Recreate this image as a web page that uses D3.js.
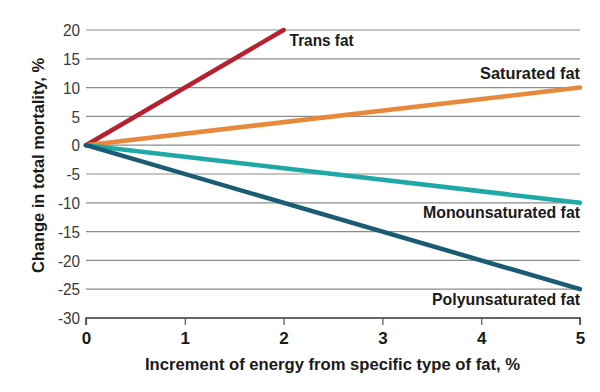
<!DOCTYPE html>
<html><head><meta charset="utf-8">
<script src="https://cdn.jsdelivr.net/npm/d3@7"></script>
<style>
body{margin:0;background:#fff;}
text{font-family:"Liberation Sans",Arial,sans-serif;}
</style></head>
<body><svg id="c" width="600" height="392"></svg>
<script>
const xTicks=[0,1,2,3,4,5];
const yTicks=[20,15,10,5,0,-5,-10,-15,-20,-25,-30];
const seriesNames=["Trans fat","Saturated fat","Monounsaturated fat","Polyunsaturated fat"];
const transX=[0,2], transY=[0,20];
const satX=[0,5], satY=[0,10];
const monoX=[0,5], monoY=[0,-10];
const polyX=[0,5], polyY=[0,-25];
const colors=["#b8202f","#e8883a","#1ea9a6","#1b5c74"];

const svg=d3.select("#c");
const x=d3.scaleLinear().domain([0,5]).range([86,580]);
const y=d3.scaleLinear().domain([-30,20]).range([318,30]);

function squeeze(sel,f){sel.each(function(){const w=this.getComputedTextLength();d3.select(this).attr("textLength",w*f).attr("lengthAdjust","spacingAndGlyphs");});}

// gridlines
svg.append("g").selectAll("line").data(yTicks.filter(d=>d>-30)).join("line")
 .attr("x1",x(0)).attr("x2",x(5)).attr("y1",d=>y(d)).attr("y2",d=>y(d))
 .attr("stroke","#8c8c8c").attr("stroke-width",1.2);

// y tick labels
const yl=svg.append("g").selectAll("text").data(yTicks).join("text")
 .attr("x",80).attr("y",d=>y(d)).attr("dy","0.36em").attr("text-anchor","end")
 .attr("font-size",17).attr("fill","#3a3a3a").text(d=>d);
squeeze(yl,0.9);

// x axis
const xa=svg.append("g").attr("transform",`translate(0,${y(-30)})`)
 .call(d3.axisBottom(x).tickValues(xTicks).tickSize(7).tickFormat(d3.format("d")));
xa.select(".domain").attr("stroke","#333").attr("stroke-width",1.5).attr("d",`M${x(0)},7V0H${x(5)}V7`);
xa.selectAll(".tick line").attr("stroke","#555").attr("stroke-width",1.2);
xa.selectAll(".tick text").attr("font-size",17).attr("font-weight","bold").attr("fill","#1a1a1a")
 .attr("dy","0.95em").attr("font-family","'Liberation Sans',Arial,sans-serif");

// lines
const series=[[transX,transY],[satX,satY],[monoX,monoY],[polyX,polyY]];
const line=d3.line().x(d=>x(d[0])).y(d=>y(d[1]));
series.forEach((s,i)=>{
  const pts=s[0].map((v,j)=>[v,s[1][j]]);
  svg.append("path").attr("d",line(pts)).attr("fill","none")
   .attr("stroke",colors[i]).attr("stroke-width",4.5).attr("stroke-linecap","round");
});

// series labels
const lab=(t,xx,yy,anchor,w)=>svg.append("text").attr("x",xx).attr("y",yy).attr("text-anchor",anchor)
 .attr("font-size",17).attr("font-weight","bold").attr("fill","#1a1a1a")
 .attr("textLength",w).attr("lengthAdjust","spacingAndGlyphs").text(t);
lab(seriesNames[0],x(2)+6,46,"start",64);
lab(seriesNames[1],x(5),79,"end",100);
lab(seriesNames[2],x(5),218,"end",157);
lab(seriesNames[3],x(5),305,"end",148);

// axis titles
svg.append("text").attr("x",332.5).attr("y",370).attr("text-anchor","middle")
 .attr("font-size",17).attr("font-weight","bold").attr("fill","#1a1a1a")
 .attr("textLength",375).attr("lengthAdjust","spacingAndGlyphs")
 .text("Increment of energy from specific type of fat, %");
svg.append("text").attr("transform",`translate(44,165.5) rotate(-90)`).attr("text-anchor","middle")
 .attr("font-size",17).attr("font-weight","bold").attr("fill","#1a1a1a")
 .attr("textLength",215).attr("lengthAdjust","spacingAndGlyphs")
 .text("Change in total mortality, %");
</script></body></html>
